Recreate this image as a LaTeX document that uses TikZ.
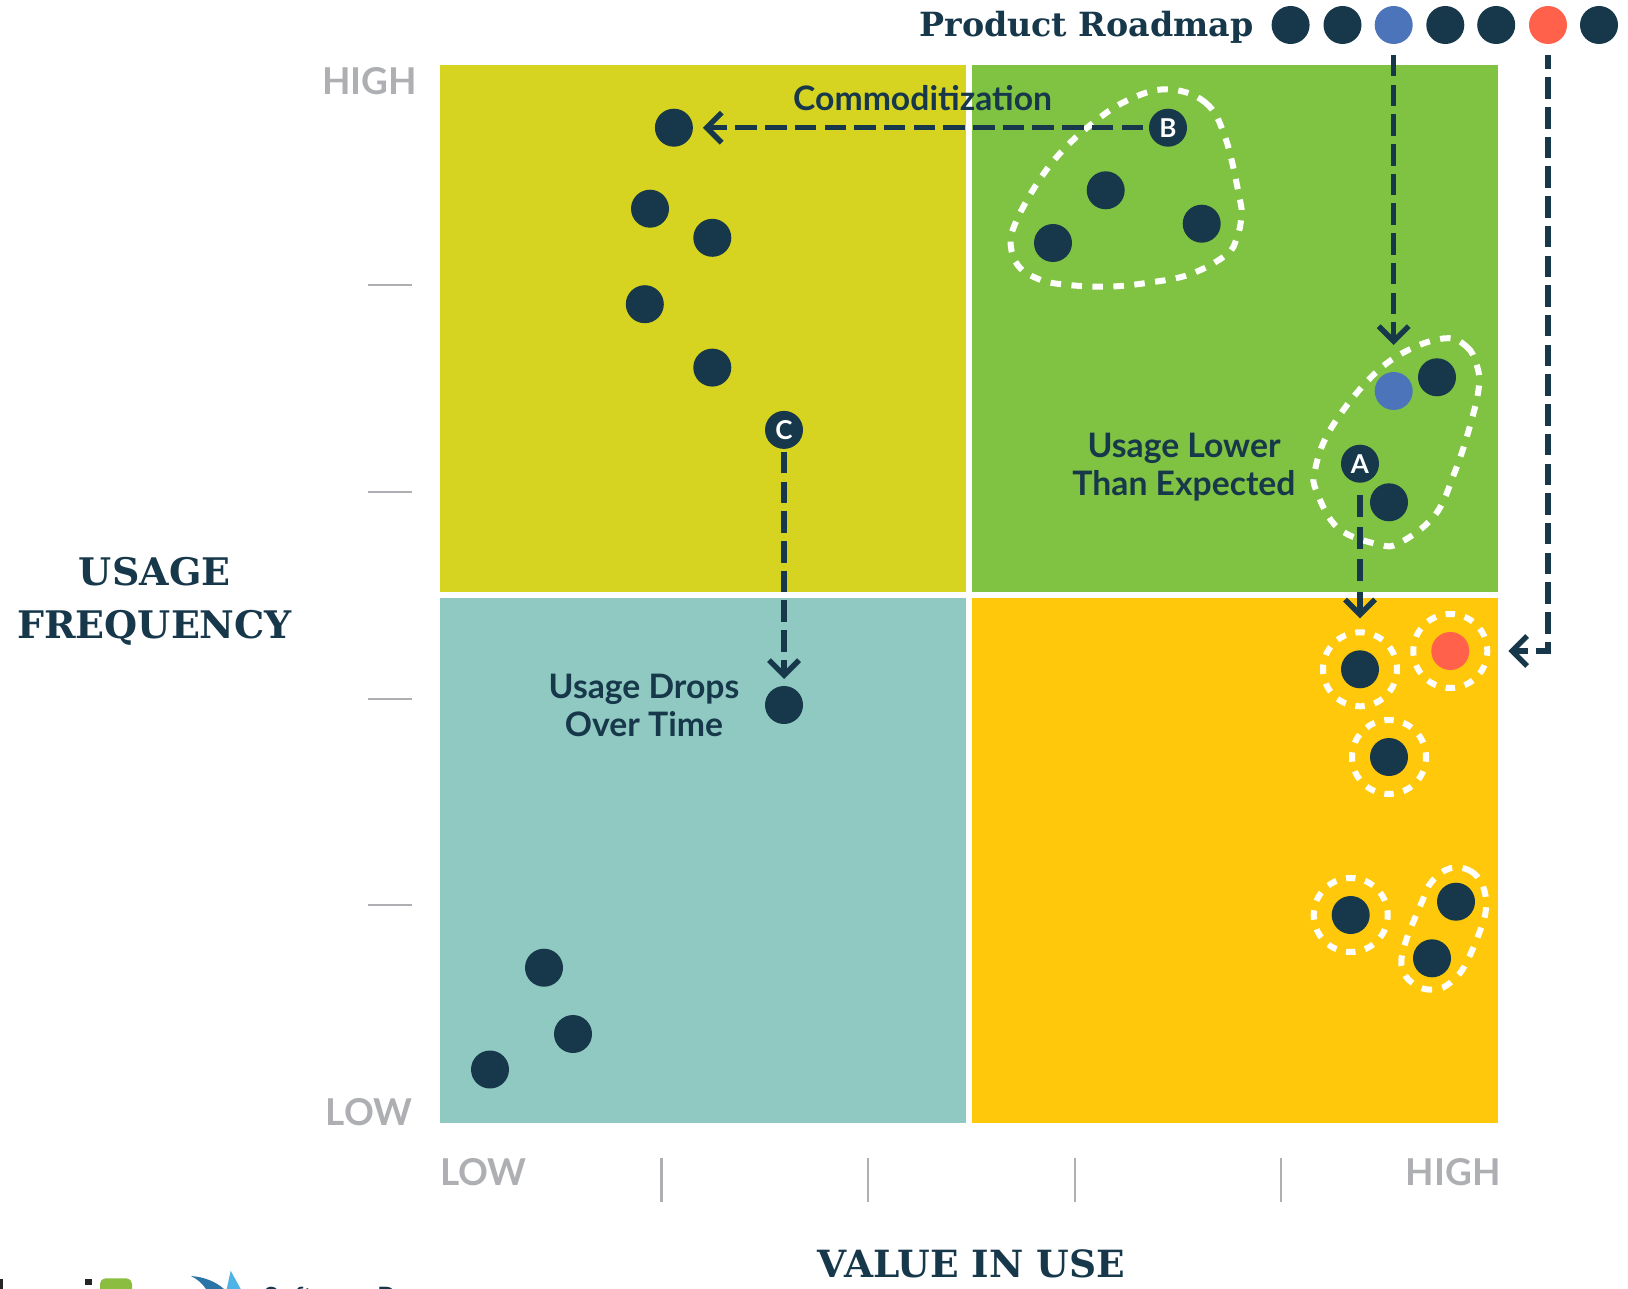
\documentclass[tikz,border=0pt]{standalone}
\usepackage{fontspec}
\usetikzlibrary{arrows.meta}
\setmainfont{Lato}
\newfontfamily\slab{DejaVu Serif}
\newfontfamily\lbl{Lato}
\definecolor{navy}{HTML}{17384B}
\definecolor{qyellow}{HTML}{D6D420}
\definecolor{qgreen}{HTML}{80C342}
\definecolor{qteal}{HTML}{8FC9C1}
\definecolor{qamber}{HTML}{FFC80B}
\definecolor{dblue}{HTML}{4C74BB}
\definecolor{dred}{HTML}{FF614A}
\definecolor{axisgrey}{HTML}{AEAFB2}
\definecolor{logogreen}{HTML}{8ABD40}
\definecolor{logowing}{HTML}{2A74A6}
\definecolor{logosky}{HTML}{4FB3E6}
\tikzset{
  x=1pt,y=-1pt,
  dot/.style={circle,fill=navy,draw=none,minimum size=38pt,inner sep=0pt,outer sep=0pt},
  letterdot/.style={dot,text=white,font=\lbl\bfseries\fontsize{26}{26}\selectfont},
  ring/.style={circle,draw=white,line width=6pt,minimum size=74pt,inner sep=0pt,outer sep=0pt,dash pattern=on 9.4pt off 9.97pt,dash phase=4.7pt},
  blob/.style={draw=white,line width=6pt,dash pattern=on 10.5pt off 10.5pt},
  flow/.style={draw=navy,line width=5.4pt,dash pattern=on 21.5pt off 8.2pt,-{Straight Barb[length=15pt,width=30pt,line width=5.4pt]}},
  heading/.style={font=\slab\bfseries\fontsize{38}{38}\selectfont,text=navy,inner sep=0pt,align=center},
  note/.style={font=\lbl\bfseries\fontsize{33.7}{38}\selectfont,text=navy,inner sep=0pt,align=center},
  axislabel/.style={font=\lbl\bfseries\fontsize{37}{37}\selectfont,text=axisgrey,inner sep=0pt},
  tick/.style={draw=axisgrey,line width=2.4pt},
}
\begin{document}
\begin{tikzpicture}
\useasboundingbox (0,0) rectangle (1628,1289);
\begin{scope}
\clip (0,0) rectangle (1628,1289);
% quadrants
\fill[qyellow] (440,65.5) rectangle (966,592);
\fill[qgreen] (972,65.5) rectangle (1498,592);
\fill[qteal] (440,597.5) rectangle (966,1123);
\fill[qamber] (972,597.5) rectangle (1498,1123);
% axis ticks
\foreach \yy in {285,491.5,698.5,905} \draw[tick,line width=2pt] (367.5,\yy) -- (412,\yy);
\foreach \xx in {661.4,868,1074.7,1281} \draw[tick] (\xx,1158) -- (\xx,1202);
% axis labels
\node[axislabel,anchor=east] (yhigh) at (417.5,81) {HIGH};
\node[axislabel,anchor=east] (ylow) at (412.5,1112) {LOW};
\node[axislabel,anchor=west] (xlow) at (440,1172) {LOW};
\node[axislabel,anchor=east] (xhigh) at (1501,1172) {HIGH};
\node[heading] (yaxis) at (154.7,601) {USAGE\\[15pt]FREQUENCY};
\node[heading,font=\slab\bfseries\fontsize{37.5}{37.5}\selectfont] (xaxis) at (971.5,1264) {VALUE IN USE};
% title and roadmap
\node[heading,font=\slab\bfseries\fontsize{33.3}{33.3}\selectfont,anchor=east] (title) at (1254,27) {Product Roadmap};
\node[dot] (r1) at (1290.6,25) {};
\node[dot] (r2) at (1342.5,25) {};
\node[dot,fill=dblue] (r3) at (1393.7,25) {};
\node[dot] (r4) at (1445.3,25) {};
\node[dot] (r5) at (1496.2,25) {};
\node[dot,fill=dred] (r6) at (1548,25) {};
\node[dot] (r7) at (1599,25) {};
% dashed white groups
\draw[blob] plot[smooth cycle,tension=0.65] coordinates {(1166.7,89.3) (1205,102.3) (1225,136.7) (1239.3,196.7) (1241.3,216.7) (1236.7,238.3) (1226,255) (1190,274.3) (1148.3,282.7) (1105,286.7) (1059.3,284) (1036.7,278.3) (1018.3,266) (1010.7,245) (1015,224) (1035,186.7) (1060,153.3) (1091.7,124) (1126.7,100.7)};
\draw[blob] plot[smooth cycle,tension=0.65] coordinates {(1445,338.3) (1466.7,346.7) (1476.7,365) (1478.7,388.3) (1468.3,431.7) (1454,474) (1435,515) (1400,542.7) (1378.3,544.3) (1338.3,528.3) (1316.7,491.7) (1315,470) (1330,430) (1368.3,380) (1405,351.7)};
\draw[blob] plot[smooth cycle,tension=0.65] coordinates {(1450,868.3) (1470,870.7) (1482.7,885.7) (1486,906.7) (1481.3,927.3) (1466,963.3) (1454,979.3) (1438.3,989) (1418.3,986.7) (1402.7,970.7) (1404.3,946) (1421.7,902.3) (1431.7,881.7)};
\node[ring] (ringa) at (1360,669.3) {};
\node[ring] (ringr) at (1450.3,651) {};
\node[ring] (ringb) at (1389,757) {};
\node[ring] (ringc) at (1350.7,915) {};
% dots
\node[dot] (d1) at (673.9,127.7) {};
\node[dot] (d2) at (650,208.7) {};
\node[dot] (d3) at (712.3,237.8) {};
\node[dot] (d4) at (644.8,304.2) {};
\node[dot] (d5) at (712.3,367.6) {};
\node[letterdot] (c) at (784,429.9) {C};
\node[dot] (d6) at (784,705) {};
\node[dot] (d7) at (544,967.7) {};
\node[dot] (d8) at (573,1034) {};
\node[dot] (d9) at (490,1069.5) {};
\node[letterdot] (b) at (1168,127.7) {B};
\node[dot] (d10) at (1105.7,190.3) {};
\node[dot] (d11) at (1201.7,223.7) {};
\node[dot] (d12) at (1053,243) {};
\node[dot,fill=dblue] (blue) at (1393.7,391) {};
\node[dot] (d13) at (1437,377.3) {};
\node[letterdot] (a) at (1360,463.7) {A};
\node[dot] (d14) at (1389,502.3) {};
\node[dot] (d15) at (1360,669.3) {};
\node[dot,fill=dred] (red) at (1450.3,651) {};
\node[dot] (d16) at (1389,757) {};
\node[dot] (d17) at (1350.7,915) {};
\node[dot] (d18) at (1456,901.7) {};
\node[dot] (d19) at (1432,958.3) {};
% connectors
\draw[flow,shorten <=6pt,shorten >=10pt] (b) -- (d1);
\draw[flow,dash pattern=on 22pt off 10.3pt,shorten <=12pt,shorten >=14pt] (a) -- (ringa);
\draw[flow,shorten <=11pt,shorten >=27pt] (r3) -- (blue);
\draw[flow,shorten <=3pt,shorten >=7pt] (c) -- (d6);
\draw[flow,dash phase=7.3pt,shorten <=11pt,shorten >=21pt] (r6) |- (ringr);
% notes
\node[note] (commod) at (922.6,98.6) {Commoditization};
\node[note] (lower) at (1184,467) {Usage Lower\\Than Expected};
\node[note] (drops) at (644,705) {Usage Drops\\Over Time};
% cropped logo
\fill[black!85] (0,1279) rectangle (3,1289);
\fill[black!85] (84.5,1278.7) rectangle (91.7,1285);
\fill[logogreen,rounded corners=5.5pt] (100,1278.3) rectangle (132,1296);
\fill[logowing] (191,1276) .. controls (205,1277) and (216,1282) .. (224,1289) -- (206,1289) .. controls (202,1283) and (197,1279) .. (191,1276) -- cycle;
\fill[logosky] (230.7,1270.7) -- (240.7,1289) -- (226.7,1289) -- cycle;
\node[anchor=base west,inner sep=0pt,text=navy,font=\lbl\fontsize{28}{28}\selectfont] (sw) at (263,1307) {Software};
\node[anchor=base west,inner sep=0pt,text=navy,font=\lbl\bfseries\fontsize{28}{28}\selectfont] (pr) at (377,1307) {P};
\end{scope}
\end{tikzpicture}
\end{document}
